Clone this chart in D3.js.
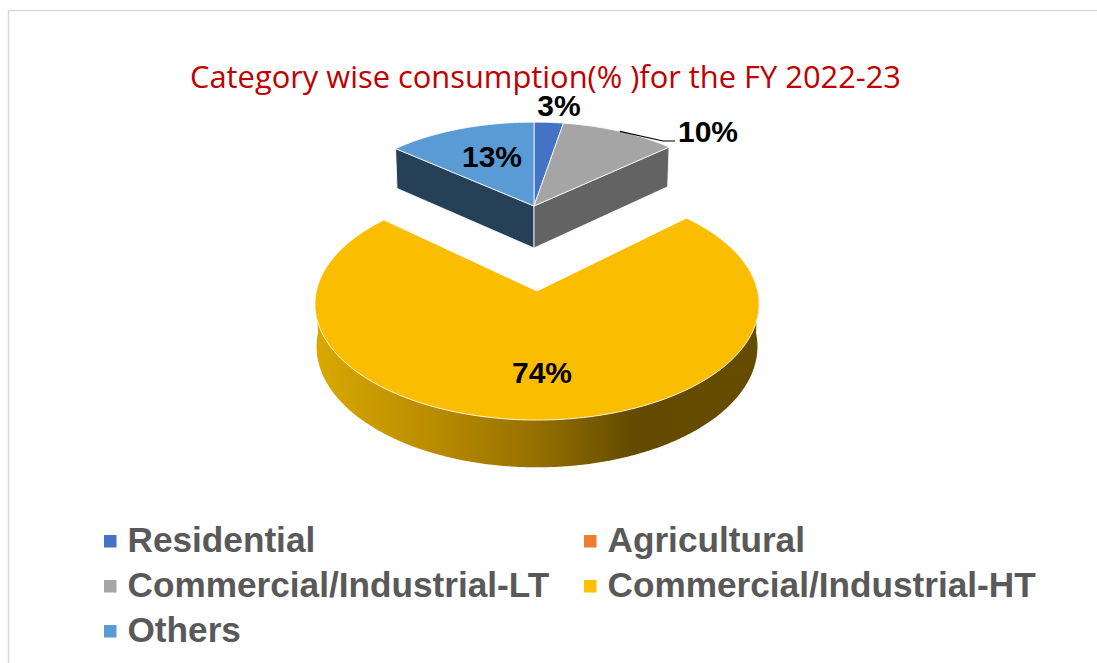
<!DOCTYPE html>
<html>
  <head>
    <meta charset="utf-8">
    <style>
      html, body {
        margin: 0;
        background: #fff;
      }
      svg {
        display: block;
      }
    </style>
  </head>
  <body>
    <script src="https://cdn.jsdelivr.net/npm/d3@7"></script>
    <script>
    var categories = ["Residential", "Agricultural", "Commercial/Industrial-LT", "Commercial/Industrial-HT", "Others"];
    // labels on the picture are rounded, slice angles say a bit more
    var shares = [2.6, 0, 10.4, 73.6, 13.4];
    var titleText = "Category wise consumption(% )for the FY 2022-23";

    var colors = ["#4472c4", "#ed7d31", "#a5a5a5", "#ffc000", "#5b9bd5"];
    var htFaceColor = "#fbbd00";
    var othersWall = "#264157", ltWall = "#636363";

    var width = 1097, height = 663;

    var svg = d3.select("body")
                .append("svg")
                  .attr("width", width)
                  .attr("height", height);

    // frame, only top and left show in the crop
    svg.append("path")
      .attr("d", d3.line()([[8.5, height], [8.5, 10.5], [width, 10.5]]))
      .attr("fill", "none")
      .attr("stroke", "#d9d9d9")
      .attr("stroke-width", 1.5);

    svg.append("text")
      .attr("x", 190)
      .attr("y", 88)
      .attr("textLength", 711)
      .attr("lengthAdjust", "spacingAndGlyphs")
      .attr("font-family", "'Open Sans'")
      .attr("font-size", 31)
      .attr("fill", "#c00000")
      .text(titleText);

    var arcs = d3.pie().sort(null).value(function (d) { return d; })(shares);

    // the tilted pie: a circle under perspective, k = how much the far side shrinks
    function projection(p) {
      var project = function (a, lower) {
        var X = Math.sin(a), Y = Math.cos(a), s = 1 / (1 + p.k * Y), z = lower ? p.shrink : 1;
        return [p.cx + p.r * X * s * z, p.cy - p.ry * Y * s + (lower ? p.depth * s : 0)];
      };
      project.apex = [p.cx, p.cy];
      project.apexLower = [p.cx, p.cy + p.depth];
      return project;
    }
    var mainPie = projection({ cx: 537, cy: 291, r: 220.6, ry: 114.6, k: 0.112, depth: 42, shrink: 0.993 });
    var backPie = projection({ cx: 534, cy: 206, r: 196, ry: 91, k: 0.085, depth: 42, shrink: 0.99 });

    function rim(project, a0, a1, lower) {
      var n = Math.max(2, Math.ceil((a1 - a0) / 0.01));
      return d3.range(n + 1).map(function (i) {
        return project(a0 + (a1 - a0) * i / n, lower);
      });
    }

    var line = d3.line();

    var wallGradient = svg.append("defs").append("linearGradient")
      .attr("id", "wall-ht")
      .attr("gradientUnits", "userSpaceOnUse")
      .attr("x1", 317).attr("x2", 758).attr("y1", 0).attr("y2", 0);
    [[0, "#d8a800"], [0.25, "#bb8d00"], [0.5, "#957000"], [0.72, "#634a00"], [1, "#664c00"]].forEach(function (s) {
      wallGradient.append("stop").attr("offset", s[0]).attr("stop-color", s[1]);
    });

    var backGroup = svg.append("g");
    var mainGroup = svg.append("g");

    // walls of the big slice first, its top face covers the back part
    var ht = arcs[3];
    mainGroup.append("path")
      .attr("d", line(rim(mainPie, Math.PI / 2, 3 * Math.PI / 2, false)
                  .concat(rim(mainPie, Math.PI / 2, 3 * Math.PI / 2, true).reverse())) + "Z")
      .attr("fill", "url(#wall-ht)");
    mainGroup.append("path")
      .attr("d", line([mainPie.apex].concat(rim(mainPie, ht.startAngle, ht.endAngle, false))) + "Z")
      .attr("fill", htFaceColor)
      .attr("stroke", "#fff")
      .attr("stroke-width", 0.8);

    // cut walls of the two slices facing us
    function cutWall(angle, color) {
      backGroup.append("path")
        .attr("d", line([backPie.apex, backPie(angle, false), backPie(angle, true), backPie.apexLower]) + "Z")
        .attr("fill", color)
        .attr("stroke", "#fff")
        .attr("stroke-width", 0.8);
    }
    cutWall(arcs[4].startAngle, othersWall);
    cutWall(arcs[2].endAngle, ltWall);

    [0, 2, 4].forEach(function (i) {
      backGroup.append("path")
        .attr("d", line([backPie.apex].concat(rim(backPie, arcs[i].startAngle, arcs[i].endAngle, false))) + "Z")
        .attr("fill", colors[i])
        .attr("stroke", "#fff")
        .attr("stroke-width", 0.8);
    });

    // leader line for the 10% label
    var leaderStart = backPie((arcs[2].startAngle + arcs[2].endAngle) / 2, false);
    svg.append("path")
      .attr("d", line([leaderStart, [663, 141], [675, 141]]))
      .attr("fill", "none")
      .attr("stroke", "#000")
      .attr("stroke-width", 1.2);

    var labelPositions = { 0: [559, 116], 2: [708, 142], 3: [542, 383], 4: [492, 167] };
    Object.keys(labelPositions).forEach(function (i) {
      svg.append("text")
        .attr("x", labelPositions[i][0])
        .attr("y", labelPositions[i][1])
        .attr("text-anchor", "middle")
        .attr("font-family", "'Liberation Sans'")
        .attr("font-weight", "bold")
        .attr("font-size", 30)
        .attr("fill", "#000")
        .text(d3.format(".0f")(shares[i]) + "%");
    });

    // legend, two columns
    var legendX = [104, 584], legendY = [541, 586, 631];
    var legend = svg.selectAll("g.legend")
      .data(categories)
      .enter()
      .append("g")
        .attr("class", "legend")
        .attr("transform", function (d, i) {
          return "translate(" + legendX[i % 2] + "," + legendY[Math.floor(i / 2)] + ")";
        });
    legend.append("rect")
      .attr("x", 0).attr("y", -6)
      .attr("width", 12.5).attr("height", 12.5)
      .attr("fill", function (d, i) { return colors[i]; });
    legend.append("text")
      .attr("x", 23.5)
      .attr("y", 11.2)
      .attr("font-family", "'Liberation Sans'")
      .attr("font-weight", "bold")
      .attr("font-size", 35.2)
      .attr("fill", "#595959")
      .text(function (d) { return d; });
    </script>
  </body>
</html>
